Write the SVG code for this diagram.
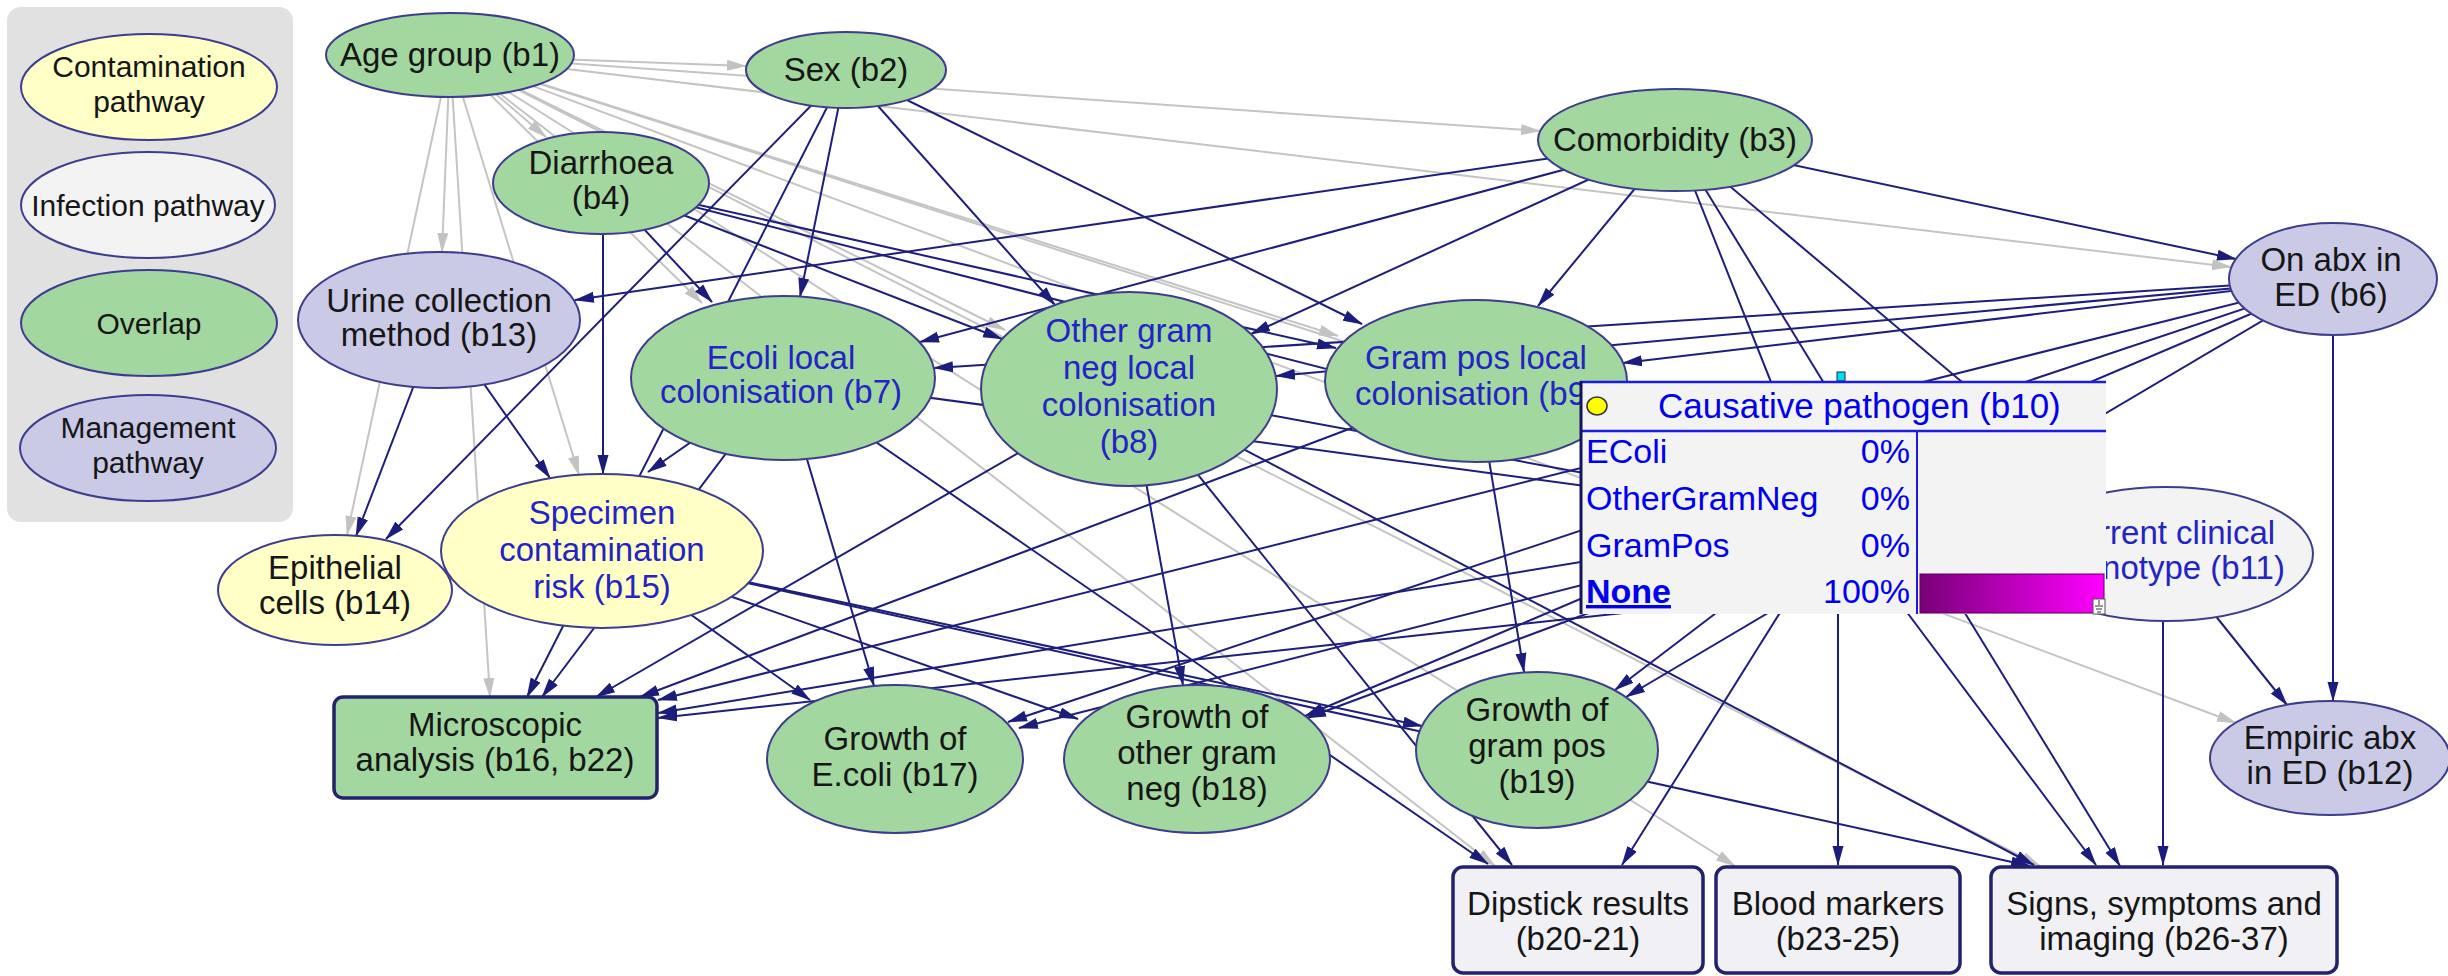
<svg xmlns="http://www.w3.org/2000/svg" width="2448" height="976" viewBox="0 0 2448 976">
<defs>
  <marker id="ad" viewBox="0 0 20 12" refX="19" refY="6" markerWidth="20" markerHeight="12" markerUnits="userSpaceOnUse" orient="auto">
    <path d="M0,0.5 L20,6 L0,11.5 Z" fill="#1c1c7a"/>
  </marker>
  <marker id="ag" viewBox="0 0 20 12" refX="19" refY="6" markerWidth="20" markerHeight="12" markerUnits="userSpaceOnUse" orient="auto">
    <path d="M0,0.5 L20,6 L0,11.5 Z" fill="#c2c2c2"/>
  </marker>
  <linearGradient id="barfill" x1="0" y1="0" x2="1" y2="0">
    <stop offset="0" stop-color="#780078"/>
    <stop offset="1" stop-color="#ff00ff"/>
  </linearGradient>
</defs>
<style>
  text { font-family: "Liberation Sans", Arial, sans-serif; }
  .lbl { font-size: 33px; fill: #161616; text-anchor: middle; }
  .leg { font-size: 30px; fill: #161616; text-anchor: middle; }
  .blu { fill: #2424c4; }
  .gr { fill: #a3d7a0; stroke: #3d3d8f; stroke-width: 2; }
  .ye { fill: #ffffc6; stroke: #3d3d8f; stroke-width: 2; }
  .ma { fill: #cacae6; stroke: #3d3d8f; stroke-width: 2; }
  .in { fill: #f3f3f3; stroke: #3d3d8f; stroke-width: 2; }
  .bx { stroke: #22226e; stroke-width: 3.5; }
  .bxl { fill: #f1f1f5; }
  .e { stroke: #1e1e7c; stroke-width: 2; fill: none; marker-end: url(#ad); }
  .eg { stroke: #c4c4c4; stroke-width: 2; fill: none; marker-end: url(#ag); }
  .pt { font-size: 34px; fill: #0000ee; }
</style>

<rect width="2448" height="976" fill="#ffffff"/>

<!-- key panel -->
<g id="legend">
  <rect x="7" y="7" width="286" height="515" rx="14" fill="#e1e1e1"/>
  <ellipse class="ye" cx="149" cy="87" rx="128" ry="53"/>
  <text class="leg" x="149" y="77">Contamination</text>
  <text class="leg" x="149" y="112">pathway</text>
  <ellipse class="in" cx="148" cy="205" rx="127" ry="53"/>
  <text class="leg" x="148" y="216">Infection pathway</text>
  <ellipse class="gr" cx="149" cy="323" rx="128" ry="53"/>
  <text class="leg" x="149" y="334">Overlap</text>
  <ellipse class="ma" cx="148" cy="448" rx="128" ry="53"/>
  <text class="leg" x="148" y="438">Management</text>
  <text class="leg" x="148" y="473">pathway</text>
</g>

<g id="connectors">
  <!-- from Age group (grey) -->
  <line class="eg" x1="450" y1="55" x2="746" y2="66"/>
  <line class="eg" x1="450" y1="55" x2="1540" y2="131"/>
  <line class="eg" x1="450" y1="55" x2="546" y2="137"/>
  <line class="eg" x1="450" y1="55" x2="442" y2="252"/>
  <line class="eg" x1="450" y1="55" x2="347" y2="535"/>
  <line class="eg" x1="450" y1="55" x2="579" y2="475"/>
  <line class="eg" x1="450" y1="55" x2="490" y2="697"/>
  <line class="eg" x1="450" y1="55" x2="702" y2="303"/>
  <line class="eg" x1="450" y1="55" x2="1005" y2="330"/>
  <line class="eg" x1="450" y1="55" x2="1338" y2="336"/>
  <line class="eg" x1="450" y1="55" x2="2231" y2="267"/>
  <line class="eg" x1="450" y1="55" x2="2236" y2="723"/>
  <line class="eg" x1="450" y1="55" x2="1495" y2="866"/>
  <line class="eg" x1="450" y1="55" x2="1735" y2="866"/>
  <line class="eg" x1="450" y1="55" x2="2040" y2="866"/>
  <line class="eg" x1="450" y1="55" x2="1838" y2="500"/>

  <!-- from Sex -->
  <line class="e" x1="846" y1="70" x2="800" y2="297"/>
  <line class="e" x1="846" y1="70" x2="1055" y2="305"/>
  <line class="e" x1="846" y1="70" x2="1362" y2="324"/>
  <line class="e" x1="846" y1="70" x2="386" y2="539"/>
  <line class="e" x1="846" y1="70" x2="527" y2="697"/>

  <!-- from Comorbidity -->
  <line class="e" x1="1675" y1="140" x2="575" y2="300"/>
  <line class="e" x1="1675" y1="140" x2="920" y2="342"/>
  <line class="e" x1="1675" y1="140" x2="1251" y2="334"/>
  <line class="e" x1="1675" y1="140" x2="1538" y2="306"/>
  <line class="e" x1="1675" y1="140" x2="2236" y2="259"/>
  <line class="e" x1="1675" y1="140" x2="2096" y2="495"/>
  <line class="e" x1="1675" y1="140" x2="2120" y2="866"/>
  <line class="e" x1="1675" y1="140" x2="1790" y2="430"/>

  <!-- from Diarrhoea -->
  <line class="e" x1="601" y1="183" x2="712" y2="302"/>
  <line class="e" x1="601" y1="183" x2="1002" y2="339"/>
  <line class="e" x1="601" y1="183" x2="1336" y2="348"/>
  <line class="e" x1="603" y1="183" x2="603" y2="474"/>
  <line class="e" x1="601" y1="183" x2="1838" y2="500"/>

  <!-- from On abx in ED -->
  <line class="e" x1="2333" y1="279" x2="934" y2="368"/>
  <line class="e" x1="2333" y1="279" x2="1276" y2="376"/>
  <line class="e" x1="2333" y1="279" x2="1623" y2="363"/>
  <line class="e" x1="2333" y1="279" x2="2333" y2="701"/>
  <line class="e" x1="2333" y1="279" x2="658" y2="700"/>
  <line class="e" x1="2333" y1="279" x2="1008" y2="722"/>
  <line class="e" x1="2333" y1="279" x2="1305" y2="716"/>
  <line class="e" x1="2333" y1="279" x2="1626" y2="697"/>

  <!-- from Ecoli local colonisation -->
  <line class="e" x1="783" y1="378" x2="648" y2="472"/>
  <line class="e" x1="783" y1="378" x2="542" y2="697"/>
  <line class="e" x1="783" y1="378" x2="874" y2="686"/>
  <line class="e" x1="783" y1="378" x2="1488" y2="864"/>
  <line class="e" x1="783" y1="378" x2="1838" y2="520"/>

  <!-- from Other gram neg local colonisation -->
  <line class="e" x1="1129" y1="389" x2="596" y2="697"/>
  <line class="e" x1="1129" y1="389" x2="1183" y2="685"/>
  <line class="e" x1="1129" y1="389" x2="1512" y2="865"/>
  <line class="e" x1="1129" y1="389" x2="2034" y2="865"/>
  <line class="e" x1="1129" y1="389" x2="1838" y2="520"/>

  <!-- from Gram pos local colonisation -->
  <line class="e" x1="1476" y1="381" x2="640" y2="697"/>
  <line class="e" x1="1476" y1="381" x2="1524" y2="672"/>
  <line class="e" x1="1476" y1="381" x2="1838" y2="520"/>

  <!-- from Causative pathogen -->
  <line class="e" x1="1838" y1="520" x2="658" y2="713"/>
  <line class="e" x1="1838" y1="520" x2="1019" y2="728"/>
  <line class="e" x1="1838" y1="520" x2="1307" y2="718"/>
  <line class="e" x1="1838" y1="520" x2="1615" y2="690"/>
  <line class="e" x1="1838" y1="520" x2="1622" y2="865"/>
  <line class="e" x1="1838" y1="520" x2="1838" y2="865"/>
  <line class="e" x1="1838" y1="520" x2="2096" y2="865"/>

  <!-- from Current clinical phenotype -->
  <line class="e" x1="2166" y1="554" x2="2287" y2="705"/>
  <line class="e" x1="2163" y1="554" x2="2163" y2="865"/>
  <line class="e" x1="2166" y1="554" x2="658" y2="718"/>

  <!-- from Urine collection method -->
  <line class="e" x1="439" y1="320" x2="356" y2="536"/>
  <line class="e" x1="439" y1="320" x2="550" y2="478"/>

  <!-- from Specimen contamination risk -->
  <line class="e" x1="602" y1="551" x2="810" y2="700"/>
  <line class="e" x1="602" y1="551" x2="1078" y2="719"/>
  <line class="e" x1="602" y1="551" x2="1422" y2="726"/>
  <line class="e" x1="602" y1="551" x2="2030" y2="866"/>
</g>

<g id="b1">
  <ellipse class="gr" cx="450" cy="55" rx="124" ry="42"/>
  <text class="lbl" x="450" y="66">Age group (b1)</text>
</g>
<g id="b2">
  <ellipse class="gr" cx="846" cy="70" rx="100" ry="38"/>
  <text class="lbl" x="846" y="81">Sex (b2)</text>
</g>
<g id="b3">
  <ellipse class="gr" cx="1675" cy="140" rx="137" ry="51"/>
  <text class="lbl" x="1675" y="151">Comorbidity (b3)</text>
</g>
<g id="b4">
  <ellipse class="gr" cx="601" cy="183" rx="108" ry="51"/>
  <text class="lbl" x="601" y="174">Diarrhoea</text>
  <text class="lbl" x="601" y="209">(b4)</text>
</g>
<g id="b6">
  <ellipse class="ma" cx="2333" cy="279" rx="104" ry="56"/>
  <text class="lbl" x="2331" y="271">On abx in</text>
  <text class="lbl" x="2331" y="306">ED (b6)</text>
</g>
<g id="b13">
  <ellipse class="ma" cx="439" cy="320" rx="141" ry="68"/>
  <text class="lbl" x="439" y="312">Urine collection</text>
  <text class="lbl" x="439" y="346">method (b13)</text>
</g>
<g id="b7">
  <ellipse class="gr" cx="783" cy="378" rx="152" ry="82"/>
  <text class="lbl blu" x="781" y="369">Ecoli local</text>
  <text class="lbl blu" x="781" y="403">colonisation (b7)</text>
</g>
<g id="b8">
  <ellipse class="gr" cx="1129" cy="389" rx="148" ry="97"/>
  <text class="lbl blu" x="1129" y="342">Other gram</text>
  <text class="lbl blu" x="1129" y="379">neg local</text>
  <text class="lbl blu" x="1129" y="416">colonisation</text>
  <text class="lbl blu" x="1129" y="453">(b8)</text>
</g>
<g id="b9">
  <ellipse class="gr" cx="1476" cy="381" rx="151" ry="81"/>
  <text class="lbl blu" x="1476" y="369">Gram pos local</text>
  <text class="lbl blu" x="1476" y="405">colonisation (b9)</text>
</g>
<g id="b11">
  <ellipse class="in" cx="2166" cy="554" rx="147" ry="67"/>
  <text class="lbl blu" x="2166" y="544">Current clinical</text>
  <text class="lbl blu" x="2166" y="579">phenotype (b11)</text>
</g>
<g id="b12">
  <ellipse class="ma" cx="2330" cy="758" rx="120" ry="57"/>
  <text class="lbl" x="2330" y="749">Empiric abx</text>
  <text class="lbl" x="2330" y="784">in ED (b12)</text>
</g>
<g id="b14">
  <ellipse class="ye" cx="335" cy="590" rx="117" ry="55"/>
  <text class="lbl" x="335" y="579">Epithelial</text>
  <text class="lbl" x="335" y="614">cells (b14)</text>
</g>
<g id="b15">
  <ellipse class="ye" cx="602" cy="551" rx="161" ry="77"/>
  <text class="lbl blu" x="602" y="524">Specimen</text>
  <text class="lbl blu" x="602" y="561">contamination</text>
  <text class="lbl blu" x="602" y="598">risk (b15)</text>
</g>
<g id="b16-b22">
  <rect class="gr bx" x="334" y="697" width="323" height="101" rx="9"/>
  <text class="lbl" x="495" y="736">Microscopic</text>
  <text class="lbl" x="495" y="771">analysis (b16, b22)</text>
</g>
<g id="b17">
  <ellipse class="gr" cx="895" cy="759" rx="128" ry="74"/>
  <text class="lbl" x="895" y="750">Growth of</text>
  <text class="lbl" x="895" y="786">E.coli (b17)</text>
</g>
<g id="b18">
  <ellipse class="gr" cx="1197" cy="759" rx="133" ry="74"/>
  <text class="lbl" x="1197" y="728">Growth of</text>
  <text class="lbl" x="1197" y="764">other gram</text>
  <text class="lbl" x="1197" y="800">neg (b18)</text>
</g>
<g id="b19">
  <ellipse class="gr" cx="1537" cy="750" rx="121" ry="78"/>
  <text class="lbl" x="1537" y="721">Growth of</text>
  <text class="lbl" x="1537" y="757">gram pos</text>
  <text class="lbl" x="1537" y="793">(b19)</text>
</g>
<g id="b20-21">
  <rect class="bxl bx" x="1453" y="867" width="250" height="106" rx="10"/>
  <text class="lbl" x="1578" y="915">Dipstick results</text>
  <text class="lbl" x="1578" y="950">(b20-21)</text>
</g>
<g id="b23-25">
  <rect class="bxl bx" x="1716" y="867" width="244" height="106" rx="10"/>
  <text class="lbl" x="1838" y="915">Blood markers</text>
  <text class="lbl" x="1838" y="950">(b23-25)</text>
</g>
<g id="b26-37">
  <rect class="bxl bx" x="1991" y="867" width="346" height="106" rx="10"/>
  <text class="lbl" x="2164" y="915">Signs, symptoms and</text>
  <text class="lbl" x="2164" y="950">imaging (b26-37)</text>
</g>

<!-- Causative pathogen shown as an expanded belief panel -->
<g id="b10">
  <rect x="1837" y="372" width="8" height="9" fill="#00e0e0" stroke="#222266" stroke-width="1"/>
  <rect x="1580" y="381" width="526" height="233" fill="#f3f3f3"/>
  <line x1="1580" y1="382" x2="2106" y2="382" stroke="#1c1ce0" stroke-width="2.5"/>
  <line x1="1580" y1="431" x2="2106" y2="431" stroke="#1c1ce0" stroke-width="2.5"/>
  <line x1="1581" y1="381" x2="1581" y2="614" stroke="#14145a" stroke-width="3"/>
  <line x1="1917" y1="431" x2="1917" y2="614" stroke="#1c1ce0" stroke-width="2"/>
  <ellipse cx="1597" cy="406" rx="10" ry="9" fill="#ffff00" stroke="#333333" stroke-width="1.5"/>
  <text x="1658" y="418" font-size="35" fill="#0000ee">Causative pathogen (b10)</text>
  <text class="pt" x="1586" y="463">EColi</text>
  <text class="pt" x="1910" y="463" text-anchor="end">0%</text>
  <text class="pt" x="1586" y="510">OtherGramNeg</text>
  <text class="pt" x="1910" y="510" text-anchor="end">0%</text>
  <text class="pt" x="1586" y="557">GramPos</text>
  <text class="pt" x="1910" y="557" text-anchor="end">0%</text>
  <text class="pt" x="1586" y="603" font-weight="bold" text-decoration="underline">None</text>
  <text class="pt" x="1910" y="603" text-anchor="end">100%</text>
  <rect x="1920" y="574" width="184" height="39" fill="url(#barfill)" stroke="#5a005a" stroke-width="1"/>
  <rect x="2093" y="599" width="12" height="15" fill="#ffffff" stroke="#555555" stroke-width="1"/>
  <line x1="2099" y1="600" x2="2099" y2="605" stroke="#333333" stroke-width="1"/>
  <line x1="2095" y1="606" x2="2103" y2="606" stroke="#333333" stroke-width="1"/>
  <line x1="2096" y1="609" x2="2102" y2="609" stroke="#333333" stroke-width="1"/>
  <line x1="2097" y1="612" x2="2101" y2="612" stroke="#333333" stroke-width="1"/>
</g>
</svg>
